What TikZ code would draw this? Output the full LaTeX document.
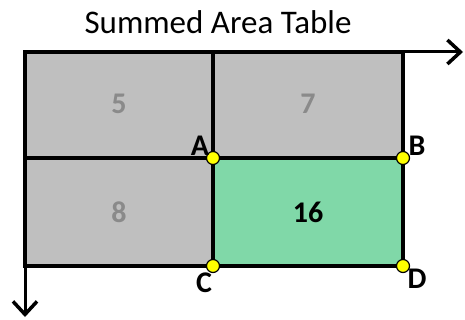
\documentclass[tikz,border=0pt]{standalone}
\usepackage{fontspec}
\setmainfont{Carlito}
\usetikzlibrary{arrows.meta}
\definecolor{cellgray}{HTML}{BFBFBF}
\definecolor{cellgreen}{HTML}{80D8A8}
\definecolor{numgray}{HTML}{8A8A8A}
\definecolor{dotyellow}{HTML}{FFFF00}
\begin{document}
\begin{tikzpicture}[x=1pt,y=-1pt,
  gridline/.style={line width=4pt},
  axis/.style={line width=3pt,-{Straight Barb[length=13pt,width=24pt,line width=3.5pt]}},
  num/.style={font=\fontsize{30}{30}\selectfont\bfseries, text=numgray},
  corner/.style={circle,draw=black,fill=dotyellow,line width=1.2pt,inner sep=0pt,minimum size=13pt},
  lbl/.style={font=\fontsize{30}{30}\selectfont\bfseries}]
\useasboundingbox (0,0) rectangle (465,320);
\coordinate (TL) at (25,52);
\coordinate (TM) at (213,52);
\coordinate (TR) at (403,52);
\coordinate (ML) at (25,158);
\coordinate (A) at (213,158);
\coordinate (B) at (403,158);
\coordinate (BL) at (25,266);
\coordinate (C) at (213,266);
\coordinate (D) at (403,266);
\fill[cellgray] (TL) rectangle (B);
\fill[cellgray] (ML) rectangle (C);
\fill[cellgreen] (A) rectangle (D);
\node[font=\fontsize{33}{33}\selectfont] (title) at (218,22) {Summed Area Table};
\node[num] (n5) at (119,104) {5};
\node[num] (n7) at (308,104) {7};
\node[num] (n8) at (119,212) {8};
\node[num,text=black] (n16) at (308,212) {16};
\draw[gridline,line cap=rect] (TL) -- (TR) -- (D) -- (BL) -- cycle;
\draw[gridline] (TM) -- (C);
\draw[gridline] (ML) -- (B);
\coordinate (xend) at (463,52);
\coordinate (yend) at (25,317);
\draw[axis] (TR) -- (xend);
\draw[axis] (BL) -- (yend);
\node[corner] (dA) at (A) {};
\node[corner] (dB) at (B) {};
\node[corner] (dC) at (C) {};
\node[corner] (dD) at (D) {};
\node[lbl] (lA) at (200,146) {A};
\node[lbl] (lB) at (417,146) {B};
\node[lbl] (lC) at (204,283) {C};
\node[lbl] (lD) at (417,279) {D};
\end{tikzpicture}
\end{document}
